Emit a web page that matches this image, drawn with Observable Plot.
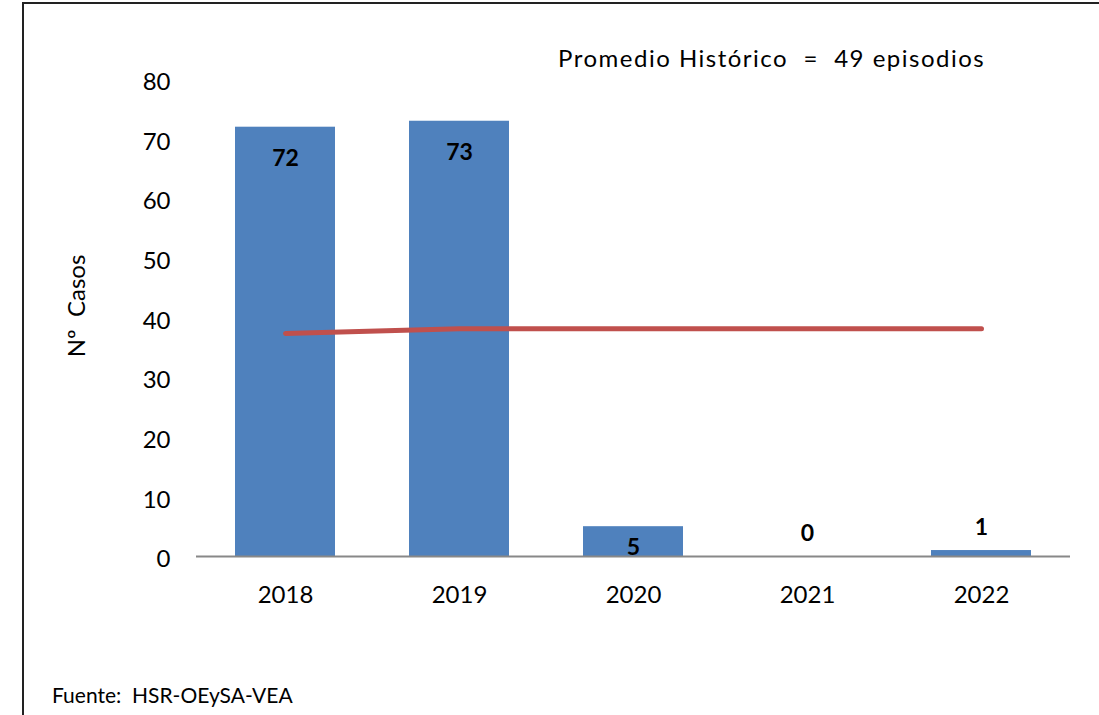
<!DOCTYPE html>
<html>
<head>
<meta charset="utf-8">
<script src="https://cdn.jsdelivr.net/npm/d3@7"></script>
<script src="https://cdn.jsdelivr.net/npm/@observablehq/plot@0.6"></script>
<style>
  html, body { margin: 0; padding: 0; background: #fff; }
  #wrap { position: relative; width: 1099px; height: 715px; overflow: hidden; font-family: Lato, "Open Sans", sans-serif; }
  #frame { position: absolute; left: 22px; top: 2px; width: 1200px; height: 800px; border-left: 2px solid #222; border-top: 2px solid #222; }
  #chart { position: absolute; left: 0; top: 0; }
  #title { position: absolute; left: 558px; top: 46px; font-size: 24px; line-height: 24px; letter-spacing: 1.5px; color: #000; white-space: pre; }
  #ylabel { position: absolute; left: 76px; top: 306px; font-size: 24px; line-height: 24px; color: #000; white-space: pre; transform: translate(-50%, -50%) rotate(-90deg); }
  #caption { position: absolute; left: 52px; top: 684px; font-size: 21px; line-height: 21px; color: #000; white-space: pre; }
</style>
</head>
<body>
<div id="wrap">
  <div id="frame"></div>
  <div id="chart"></div>
  <div id="title">Promedio Histórico  =  49 episodios</div>
  <div id="ylabel">Nº  Casos</div>
  <div id="caption">Fuente:  HSR-OEySA-VEA</div>
</div>
<script>
const years = ["2018", "2019", "2020", "2021", "2022"];
const casos = [72, 73, 5, 0, 1];
const promedio = [37.4, 38.2, 38.2, 38.2, 38.2];
const yTicks = [0, 10, 20, 30, 40, 50, 60, 70, 80];

const data = years.map((y, i) => ({year: y, casos: casos[i], prom: promedio[i]}));

const labelDy = v => v >= 10 ? 31 : v >= 3 ? 21 : -23;

const chart = Plot.plot({
  width: 1099,
  height: 715,
  marginLeft: 196,
  marginRight: 29,
  marginTop: 79,
  marginBottom: 159,
  style: {fontFamily: "Lato, 'Open Sans', sans-serif", fontSize: "24px", background: "transparent", overflow: "visible"},
  x: {domain: years, paddingInner: 0.428, paddingOuter: 0.214, label: null},
  y: {domain: [0, 80], label: null},
  marks: [
    Plot.barY(data, {x: "year", y: "casos", fill: "#4F81BD"}),
    Plot.ruleX([0], {frameAnchor: "left", y1: 0, y2: 79.5, stroke: "#888", strokeWidth: 2}),
    Plot.ruleY([0], {stroke: "#888", strokeWidth: 2}),
    Plot.axisY({ticks: yTicks, tickSize: 0, tickPadding: 26, label: null, fontSize: 24, fill: "#000", dy: 3}),
    Plot.axisX({tickSize: 0, tickPadding: 29, label: null, fontSize: 24, fill: "#000"}),
    Plot.lineY(data, {x: "year", y: "prom", stroke: "#C0504D", strokeWidth: 5, strokeLinecap: "round", strokeLinejoin: "round"}),
    ...data.map(d => Plot.text([d], {x: "year", y: "casos", text: dd => String(dd.casos), dy: labelDy(d.casos), fontWeight: "bold", fontSize: 23, fill: "#000"}))
  ]
});
document.getElementById("chart").appendChild(chart);
</script>
</body>
</html>
